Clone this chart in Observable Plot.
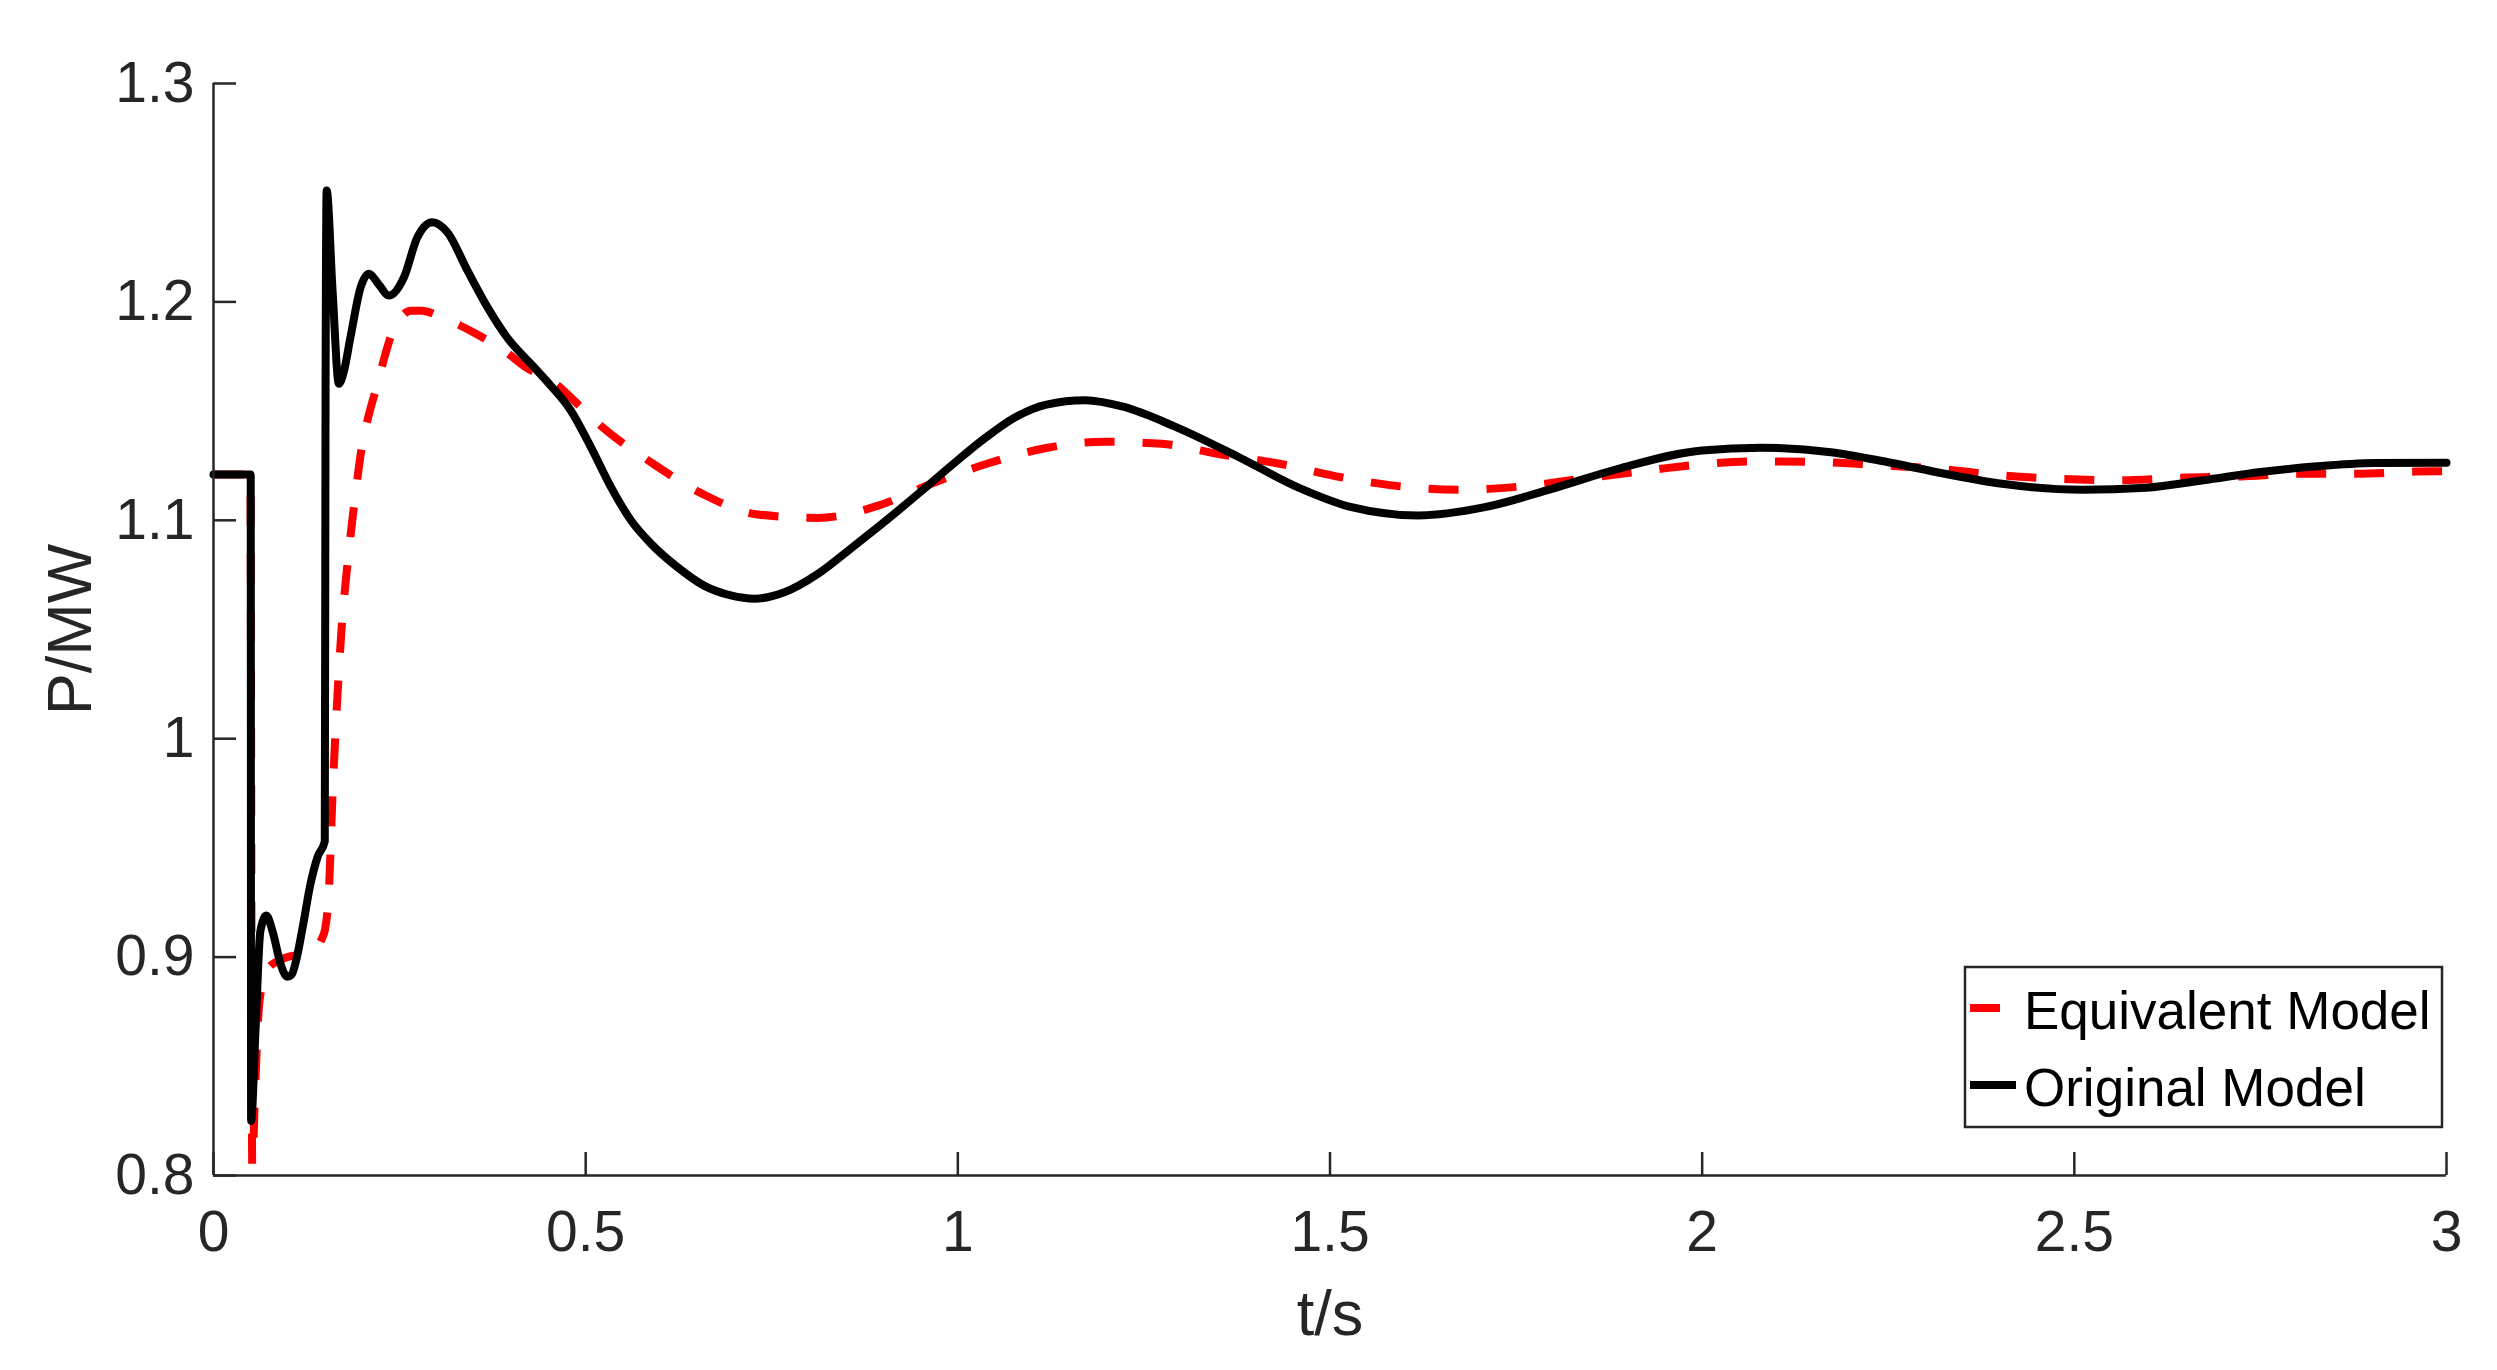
<!DOCTYPE html>
<html>
<head>
<meta charset="utf-8">
<script src="https://cdn.jsdelivr.net/npm/d3@7"></script>
<script src="https://cdn.jsdelivr.net/npm/@observablehq/plot@0.6"></script>
<style>
  html, body { margin: 0; padding: 0; background: #fff; }
  #wrap { position: relative; width: 2497px; height: 1370px; }
  #legend { position: absolute; left: 0; top: 0; pointer-events: none; }
</style>
</head>
<body>
<div id="wrap"></div>
<script>
// ---- data ----
const xTicks = [0, 0.5, 1, 1.5, 2, 2.5, 3];
const yTicks = [0.8, 0.9, 1, 1.1, 1.2, 1.3];
const seriesNames = ["Equivalent Model", "Original Model"];

const tOriginal = [0, 0.05, 0.0505, 0.0565, 0.063, 0.071, 0.08, 0.09, 0.099, 0.105, 0.11, 0.12, 0.13, 0.14, 0.1495,
  0.1505, 0.152, 0.16, 0.1685, 0.175, 0.184, 0.1977, 0.2088, 0.222, 0.2357, 0.2559, 0.2739, 0.294, 0.3142, 0.3411,
  0.368, 0.3949, 0.4307, 0.453, 0.480, 0.507, 0.534, 0.561, 0.588, 0.6235, 0.659, 0.695, 0.7265, 0.767, 0.812,
  0.857, 0.905, 0.948, 0.991, 1.034, 1.076, 1.119, 1.171, 1.222, 1.291, 1.377, 1.4616, 1.5289, 1.6185, 1.708,
  1.798, 1.8875, 1.9995, 2.08, 2.173, 2.25, 2.326, 2.403, 2.511, 2.596, 2.673, 2.75, 2.826, 2.903, 3.0];
const pOriginal = [1.121, 1.121, 0.825, 0.867, 0.912, 0.919, 0.911, 0.897, 0.891, 0.892, 0.897, 0.914, 0.933, 0.946, 0.953,
  1.15, 1.251, 1.205, 1.1625, 1.168, 1.1838, 1.2067, 1.2129, 1.208, 1.2029, 1.2113, 1.2296, 1.2365, 1.2319, 1.2144,
  1.1976, 1.1835, 1.1701, 1.1617, 1.1503, 1.1335, 1.1152, 1.0999, 1.0892, 1.0785, 1.0701, 1.0656, 1.0641, 1.0671, 1.0755,
  1.0873, 1.1003, 1.1125, 1.125, 1.137, 1.147, 1.153, 1.155, 1.152, 1.143, 1.129, 1.1144, 1.106, 1.1022, 1.106,
  1.1144, 1.1236, 1.132, 1.1332, 1.1312, 1.1266, 1.1213, 1.1167, 1.114, 1.1149, 1.1183, 1.1221, 1.1247, 1.1262, 1.1264];

const tEquivalent = [0, 0.0495, 0.052, 0.056, 0.06, 0.065, 0.072, 0.085, 0.099, 0.115, 0.133, 0.145, 0.150, 0.155,
  0.160, 0.165, 0.172, 0.18, 0.19, 0.2, 0.21, 0.22, 0.23, 0.24, 0.25, 0.265, 0.28, 0.3, 0.3254, 0.36, 0.3903, 0.42,
  0.4599, 0.49, 0.5226, 0.5876, 0.657, 0.731, 0.812, 0.893, 0.966, 1.04, 1.117, 1.197, 1.274, 1.356, 1.434, 1.5154,
  1.596, 1.6767, 1.757, 1.838, 1.919, 1.995, 2.076, 2.157, 2.238, 2.318, 2.4, 2.48, 2.561, 2.642, 2.723, 2.804,
  2.88, 2.959, 3.0];
const pEquivalent = [1.121, 1.121, 0.805, 0.84, 0.872, 0.887, 0.894, 0.898, 0.900, 0.901, 0.903, 0.908, 0.913, 0.93,
  0.975, 1.01, 1.05, 1.08, 1.11, 1.135, 1.150, 1.162, 1.175, 1.186, 1.192, 1.196, 1.196, 1.194, 1.1902, 1.184, 1.1777, 1.170,
  1.1625, 1.153, 1.1426, 1.1266, 1.1121, 1.1027, 1.1011, 1.1067, 1.117, 1.126, 1.133, 1.136, 1.135, 1.130, 1.1258, 1.1197,
  1.1155, 1.114, 1.1155, 1.119, 1.1225, 1.1255, 1.127, 1.1267, 1.1252, 1.1236, 1.1206, 1.119, 1.1183, 1.1195, 1.1201, 1.1213,
  1.1213, 1.1223, 1.1225];

// ---- build ----
const rowsOriginal = tOriginal.map((t, i) => ({t, p: pOriginal[i]}));
const rowsEquivalent = tEquivalent.map((t, i) => ({t, p: pEquivalent[i]}));

const W = 2497, H = 1370;
const mL = 213, mR = 51, mT = 83, mB = 195;
const plotW = W - mL - mR, plotH = H - mT - mB;
const axisColor = "#262626";
const font = "'Liberation Sans', Arial, Helvetica, sans-serif";
const tickLen = 23;

const chart = Plot.plot({
  width: W, height: H,
  marginLeft: mL, marginRight: mR, marginTop: mT, marginBottom: mB,
  x: {domain: [xTicks[0], xTicks[xTicks.length - 1]]},
  y: {domain: [yTicks[0], yTicks[yTicks.length - 1]]},
  style: {fontFamily: font, background: "#fff", color: axisColor, overflow: "visible"},
  marks: [
    Plot.axisX({ticks: xTicks, tickSize: 0, tickPadding: 35, fontSize: 57, label: null, tickFormat: d => String(d)}),
    Plot.axisY({ticks: yTicks, tickSize: 0, tickPadding: 19, fontSize: 57, label: null, tickFormat: d => String(d)}),
    Plot.line(rowsEquivalent, {x: "t", y: "p", stroke: "#ff0000", strokeWidth: 8, strokeDasharray: "30,28",
      strokeLinecap: "butt", strokeLinejoin: "miter", curve: "monotone-x"}),
    Plot.line(rowsOriginal, {x: "t", y: "p", stroke: "#000000", strokeWidth: 8, curve: "monotone-x"}),
    Plot.ruleY([yTicks[0]], {stroke: axisColor, strokeWidth: 2.5}),
    Plot.ruleX([xTicks[0]], {stroke: axisColor, strokeWidth: 2.5}),
    Plot.ruleX(xTicks, {x: d => d, insetTop: plotH - tickLen, stroke: axisColor, strokeWidth: 2.5}),
    Plot.ruleY(yTicks, {y: d => d, insetRight: plotW - tickLen, stroke: axisColor, strokeWidth: 2.5}),
    Plot.text(["t/s"], {frameAnchor: "bottom", lineAnchor: "middle", dy: 139, fontSize: 63, fill: axisColor}),
    Plot.text(["P/MW"], {frameAnchor: "left", textAnchor: "middle", lineAnchor: "middle", dx: -143, rotate: -90,
      fontSize: 63, fill: axisColor})
  ]
});

const wrap = document.getElementById("wrap");
wrap.appendChild(chart);

// ---- legend overlay (inside the axes, lower right) ----
const leg = d3.select(wrap).append("svg").attr("id", "legend")
  .attr("width", W).attr("height", H)
  .style("font-family", font);
const box = {x: 1965, y: 967, w: 477, h: 160};
leg.append("rect").attr("x", box.x).attr("y", box.y).attr("width", box.w).attr("height", box.h)
  .attr("fill", "#fff").attr("stroke", axisColor).attr("stroke-width", 2.5);
const entries = [
  {name: seriesNames[0], color: "#ff0000", dash: "30,28", cy: 1008, base: 1029},
  {name: seriesNames[1], color: "#000000", dash: null, cy: 1085, base: 1106}
];
entries.forEach(e => {
  leg.append("line").attr("x1", box.x + 5).attr("x2", box.x + 51).attr("y1", e.cy).attr("y2", e.cy)
    .attr("stroke", e.color).attr("stroke-width", 8)
    .attr("stroke-dasharray", e.dash);
  leg.append("text").attr("x", box.x + 59).attr("y", e.base).attr("font-size", 53)
    .attr("fill", "#000").text(e.name);
});
</script>
</body>
</html>
